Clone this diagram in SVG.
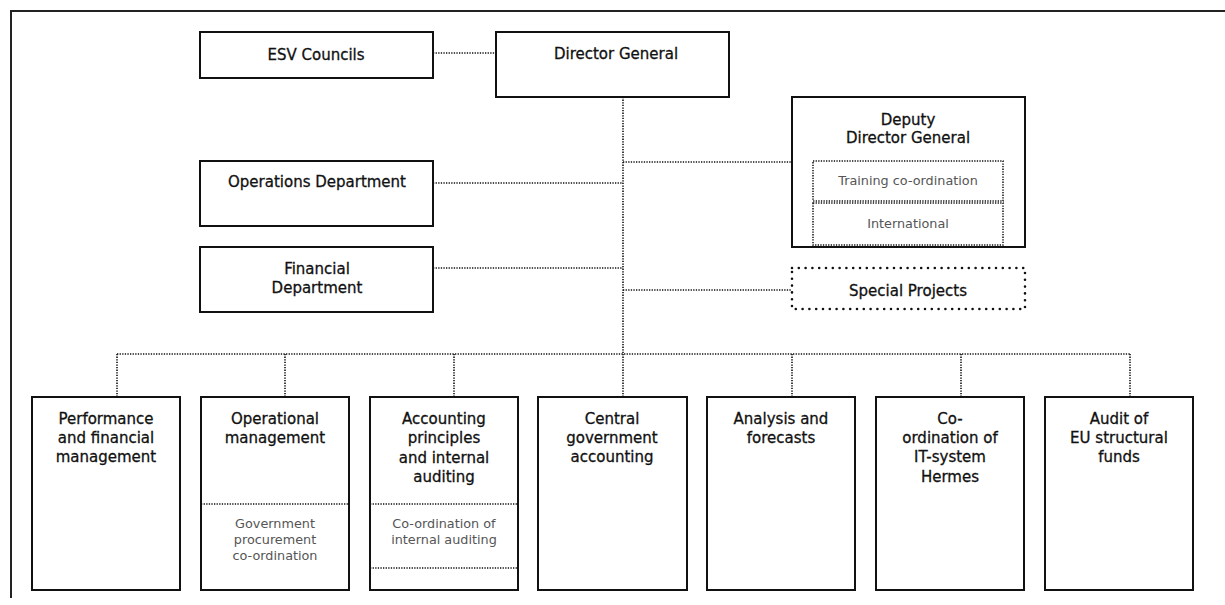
<svg xmlns="http://www.w3.org/2000/svg" width="1225" height="605" viewBox="0 0 1225 605">
  <style>
    .box { fill: #fff; stroke: #111; stroke-width: 2; }
    .sub { fill: none; stroke: #111; stroke-width: 1.5; stroke-dasharray: 1.3 1.3; }
    .dash { fill: none; stroke: #111; stroke-width: 2.6; stroke-dasharray: 0 6.8; stroke-linecap: round; }
    .conn { fill: none; stroke: #111; stroke-width: 1.6; stroke-dasharray: 1.3 1.3; }
    .frame { fill: none; stroke: #222; stroke-width: 2; }
    text { font-family: "DejaVu Sans", "Liberation Sans", sans-serif; text-anchor: middle; }
    .lbl { font-size: 15px; fill: #111; stroke: #111; stroke-width: 0.3; }
    .small { font-size: 12.8px; fill: #555; }
  </style>

  <!-- page frame (top and left edges) -->
  <path class="frame" d="M11 598 V11 H1225"/>

  <!-- connectors -->
  <g id="connectors">
    <path class="conn" d="M433 53 H496"/>
    <path class="conn" d="M623 97 V354"/>
    <path class="conn" d="M433 183 H623"/>
    <path class="conn" d="M623 162 H792"/>
    <path class="conn" d="M433 268 H623"/>
    <path class="conn" d="M623 290 H792"/>
    <path class="conn" d="M117 354 H1130"/>
    <path class="conn" d="M117 354 V397 M285 354 V397 M454 354 V397 M623 354 V397 M792 354 V397 M961 354 V397 M1130 354 V397"/>
  </g>

  <g id="esv-councils">
    <rect class="box" x="200" y="32" width="233" height="46"/>
    <text class="lbl" x="316" y="60">ESV Councils</text>
  </g>

  <g id="director-general">
    <rect class="box" x="496" y="32" width="233" height="65"/>
    <text class="lbl" x="616" y="59">Director General</text>
  </g>

  <g id="operations-department">
    <rect class="box" x="200" y="161" width="233" height="65"/>
    <text class="lbl" x="317" y="187">Operations Department</text>
  </g>

  <g id="financial-department">
    <rect class="box" x="200" y="247" width="233" height="65"/>
    <text class="lbl" x="317" y="274">Financial</text>
    <text class="lbl" x="317" y="293">Department</text>
  </g>

  <g id="deputy-director-general">
    <rect class="box" x="792" y="97" width="233" height="150"/>
    <text class="lbl" x="908" y="125">Deputy</text>
    <text class="lbl" x="908" y="143">Director General</text>
    <rect class="sub" x="813" y="161" width="190" height="40"/>
    <text class="small" x="908" y="185">Training co-ordination</text>
    <rect class="sub" x="813" y="203" width="190" height="42"/>
    <text class="small" x="908" y="228">International</text>
  </g>

  <g id="special-projects">
    <rect class="dash" x="792" y="268" width="233" height="41"/>
    <text class="lbl" x="908" y="296">Special Projects</text>
  </g>

  <g id="performance-financial-management">
    <rect class="box" x="32" y="397" width="148" height="193"/>
    <text class="lbl" x="106" y="424">Performance</text>
    <text class="lbl" x="106" y="443">and financial</text>
    <text class="lbl" x="106" y="462">management</text>
  </g>

  <g id="operational-management">
    <rect class="box" x="201" y="397" width="148" height="193"/>
    <text class="lbl" x="275" y="424">Operational</text>
    <text class="lbl" x="275" y="443">management</text>
    <path class="sub" d="M201 504 H349"/>
    <text class="small" x="275" y="528">Government</text>
    <text class="small" x="275" y="544">procurement</text>
    <text class="small" x="275" y="560">co-ordination</text>
  </g>

  <g id="accounting-principles">
    <rect class="box" x="370" y="397" width="148" height="193"/>
    <text class="lbl" x="444" y="424">Accounting</text>
    <text class="lbl" x="444" y="443">principles</text>
    <text class="lbl" x="444" y="463">and internal</text>
    <text class="lbl" x="444" y="482">auditing</text>
    <path class="sub" d="M370 504 H518 M370 568 H518"/>
    <text class="small" x="444" y="528">Co-ordination of</text>
    <text class="small" x="444" y="544">internal auditing</text>
  </g>

  <g id="central-government-accounting">
    <rect class="box" x="538" y="397" width="149" height="193"/>
    <text class="lbl" x="612" y="424">Central</text>
    <text class="lbl" x="612" y="443">government</text>
    <text class="lbl" x="612" y="462">accounting</text>
  </g>

  <g id="analysis-forecasts">
    <rect class="box" x="707" y="397" width="148" height="193"/>
    <text class="lbl" x="781" y="424">Analysis and</text>
    <text class="lbl" x="781" y="443">forecasts</text>
  </g>

  <g id="it-system-hermes">
    <rect class="box" x="876" y="397" width="148" height="193"/>
    <text class="lbl" x="950" y="424">Co-</text>
    <text class="lbl" x="950" y="443">ordination of</text>
    <text class="lbl" x="950" y="462">IT-system</text>
    <text class="lbl" x="950" y="482">Hermes</text>
  </g>

  <g id="eu-structural-funds">
    <rect class="box" x="1045" y="397" width="148" height="193"/>
    <text class="lbl" x="1119" y="424">Audit of</text>
    <text class="lbl" x="1119" y="443">EU structural</text>
    <text class="lbl" x="1119" y="462">funds</text>
  </g>
</svg>
